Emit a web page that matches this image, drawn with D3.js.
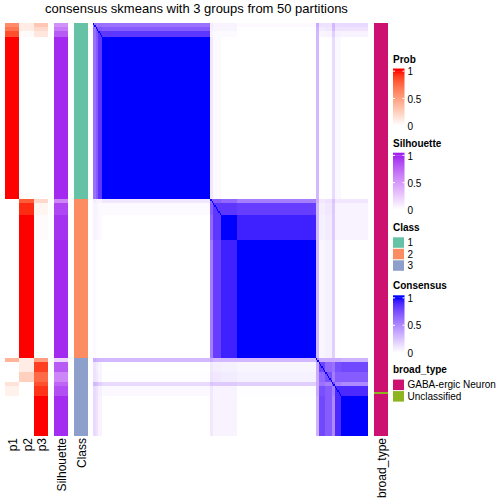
<!DOCTYPE html>
<html><head><meta charset="utf-8">
<script src="https://cdn.jsdelivr.net/npm/d3@7/dist/d3.min.js"></script>
<style>html,body{margin:0;padding:0;background:#fff;} svg{display:block;font-family:"Liberation Sans",Arial,Helvetica,sans-serif;}</style>
</head><body><svg id="c" width="504" height="504"></svg>
<script>
// ---- data (blocks of consecutive samples) ----
const blockNames = ["c1a","c1b","c1c","c1d","c2a","c2b","c2c","c2d","c3a","c3b1","c3b2","c3c","c3d","c3e"];
const blockSizes = [2,2,3,81, 2,6,12,59, 2,5,5,2,5,20];
const blockClass = [1,1,1,1, 2,2,2,2, 3,3,3,3,3,3];
const probP1 = [0.6,0.7,0.85,1, 0,0,0,0, 0.4,0,0,0.15,0.07,0];
const probP2 = [0.1,0.1,0.02,0, 0.8,0.95,1,1, 0.1,0.1,0.25,0,0,0];
const probP3 = [0.3,0.2,0.13,0, 0.2,0.05,0.02,0, 0.5,0.9,0.75,0.85,0.93,1];
const silhouette = [0.55,0.65,0.8,0.98, 0.6,0.88,0.95,0.98, 0.2,0.8,0.6,0.75,0.85,0.97];
// consensus between blocks, upper triangle (row i starts at column i)
const consensusUpper = [
 [0.6,0.6,0.62,0.6,0.08,0.05,0.05,0.02,0.35,0.12,0.12,0.3,0.15,0.15],
 [0.72,0.72,0.7,0.06,0.04,0.04,0.01,0.32,0.08,0.1,0.28,0.12,0.12],
 [0.85,0.85,0.05,0.02,0.02,0,0.3,0.04,0.05,0.2,0.06,0.05],
 [1,0.1,0.02,0,0,0.3,0,0.01,0.15,0.03,0],
 [0.65,0.7,0.65,0.55,0.35,0.1,0.12,0.25,0.1,0.1],
 [0.85,0.85,0.82,0.3,0.07,0.1,0.22,0.05,0.05],
 [1,0.93,0.3,0.06,0.08,0.22,0.05,0.05],
 [1,0.3,0.04,0.06,0.2,0.01,0],
 [0.5,0.35,0.35,0.35,0.35,0.32],
 [0.8,0.65,0.6,0.75,0.78],
 [0.75,0.55,0.7,0.7],
 [0.75,0.55,0.5],
 [0.9,0.9],
 [1]
];
const broadTypeRuns = [["GABA-ergic Neuron",184],["Unclassified",1],["GABA-ergic Neuron",21]];
const classLevels = ["1","2","3"];
const classColors = ["#66C2A5","#FC8D62","#8DA0CB"];
const broadTypeLevels = ["GABA-ergic Neuron","Unclassified"];
const broadTypeColors = ["#CC1170","#8DB31E"];
const legendTicks = [0,0.5,1];
const titleText = "consensus skmeans with 3 groups from 50 partitions";

// ---- drawing ----
const svg = d3.select("#c");
const N = d3.sum(blockSizes);
const starts = blockSizes.map((s,i)=>d3.sum(blockSizes.slice(0,i)));
const cons = (i,j)=> i<=j ? consensusUpper[i][j-i] : consensusUpper[j][i-j];

const x = d3.scaleLinear().domain([0,N]).range([93,368]);
const y = d3.scaleLinear().domain([0,N]).range([23,436]);
const colCons = d3.scaleLinear().domain([0,1]).range(["#ffffff","#0000ff"]).interpolate(d3.interpolateLab);
const colSil = d3.scaleLinear().domain([0,1]).range(["#ffffff","#A020F0"]).interpolate(d3.interpolateLab);
const colProb = d3.scaleLinear().domain([0,1]).range(["#ffffff","#FF0000"]).interpolate(d3.interpolateLab);
const colClass = d3.scaleOrdinal().domain([1,2,3]).range(classColors);
const colType = d3.scaleOrdinal().domain(broadTypeLevels).range(broadTypeColors);

svg.append("text").attr("x",196.5).attr("y",13).attr("text-anchor","middle")
  .attr("font-size",13).attr("fill","#000").text(titleText);

const g = svg.append("g").attr("shape-rendering","crispEdges");
// heatmap block pairs
const pairs = [];
blockSizes.forEach((si,i)=>blockSizes.forEach((sj,j)=>pairs.push({i,j,v:cons(i,j)})));
g.selectAll("rect.cell").data(pairs).join("rect").attr("class","cell")
  .attr("x",d=>x(starts[d.j])).attr("width",d=>x(starts[d.j]+blockSizes[d.j])-x(starts[d.j]))
  .attr("y",d=>y(starts[d.i])).attr("height",d=>y(starts[d.i]+blockSizes[d.i])-y(starts[d.i]))
  .attr("fill",d=>colCons(d.v));
// diagonal (self consensus = 1)
const diag = [];
blockSizes.forEach((s,i)=>{ if(cons(i,i)<1) for(let k=0;k<s;k++) diag.push(starts[i]+k); });
g.selectAll("rect.diag").data(diag).join("rect").attr("class","diag")
  .attr("x",d=>x(d)).attr("width",d=>x(d+1)-x(d)).attr("y",d=>y(d)).attr("height",d=>y(d+1)-y(d))
  .attr("fill",colCons(1));

// annotation columns
const annos = [
  {name:"p1", vals:probP1, scale:colProb, x0:5, x1:19.4},
  {name:"p2", vals:probP2, scale:colProb, x0:19.4, x1:33.7},
  {name:"p3", vals:probP3, scale:colProb, x0:33.7, x1:48},
  {name:"Silhouette", vals:silhouette, scale:colSil, x0:54, x1:68},
  {name:"Class", vals:blockClass, scale:colClass, x0:74, x1:88}
];
annos.forEach(a=>{
  g.append("g").selectAll("rect").data(a.vals).join("rect")
   .attr("x",a.x0).attr("width",a.x1-a.x0)
   .attr("y",(v,i)=>y(starts[i])).attr("height",(v,i)=>y(starts[i]+blockSizes[i])-y(starts[i]))
   .attr("fill",v=>a.scale(v));
});
// broad_type column
let acc=0;
const runs = broadTypeRuns.map(r=>{const o={t:r[0],s:acc,n:r[1]}; acc+=r[1]; return o;});
g.append("g").selectAll("rect").data(runs).join("rect")
  .attr("x",374).attr("width",14).attr("y",d=>y(d.s)).attr("height",d=>y(d.s+d.n)-y(d.s))
  .attr("fill",d=>colType(d.t));

// bottom names
const names = annos.map(a=>({n:a.name,c:(a.x0+a.x1)/2})).concat([{n:"broad_type",c:381}]);
svg.append("g").selectAll("text").data(names).join("text")
  .attr("transform",d=>`translate(${d.c+5},438) rotate(-90)`)
  .attr("text-anchor","end").attr("font-size",12).attr("fill","#000").text(d=>d.n);

// legends
const LX = 393;
const defs = svg.append("defs");
function contLegend(title, TB, scale, id){
  const lg = svg.append("g");
  lg.append("text").attr("x",LX).attr("y",TB).attr("font-size",10).attr("font-weight","bold").text(title);
  const t = d3.scaleLinear().domain([0,1]).range([TB+63.3, TB+8.6]);
  const grad = defs.append("linearGradient").attr("id",id).attr("x1",0).attr("x2",0).attr("y1",1).attr("y2",0);
  d3.range(0,1.0001,0.05).forEach(v=>grad.append("stop").attr("offset",v).attr("stop-color",scale(v)));
  lg.append("rect").attr("x",LX).attr("width",11.5).attr("y",t(1)).attr("height",t(0)-t(1)).attr("fill",`url(#${id})`);
  lg.append("rect").attr("x",LX).attr("width",11.5).attr("y",TB+6).attr("height",t(1)-(TB+6)).attr("fill",scale(1));
  legendTicks.forEach(v=>{
    lg.append("line").attr("x1",LX).attr("x2",LX+2).attr("y1",t(v)).attr("y2",t(v)).attr("stroke","#fff");
    lg.append("line").attr("x1",LX+9.5).attr("x2",LX+11.5).attr("y1",t(v)).attr("y2",t(v)).attr("stroke","#fff");
    lg.append("text").attr("x",LX+14.5).attr("y",t(v)+4.2).attr("font-size",10).text(String(v));
  });
}
function discLegend(title, TB, levels, colors){
  const lg = svg.append("g");
  lg.append("text").attr("x",LX).attr("y",TB).attr("font-size",10).attr("font-weight","bold").text(title);
  levels.forEach((l,k)=>{
    const top = TB+6.6+k*11.5;
    lg.append("rect").attr("x",LX).attr("y",top).attr("width",11).attr("height",10.5).attr("fill",colors[k]);
    lg.append("text").attr("x",LX+14.5).attr("y",top+8.7).attr("font-size",10).text(l);
  });
}
contLegend("Prob",62.5,colProb,"gp");
contLegend("Silhouette",146.7,colSil,"gs");
discLegend("Class",230.7,classLevels,classColors);
contLegend("Consensus",289.3,colCons,"gc");
discLegend("broad_type",373,broadTypeLevels,broadTypeColors);
</script></body></html>
